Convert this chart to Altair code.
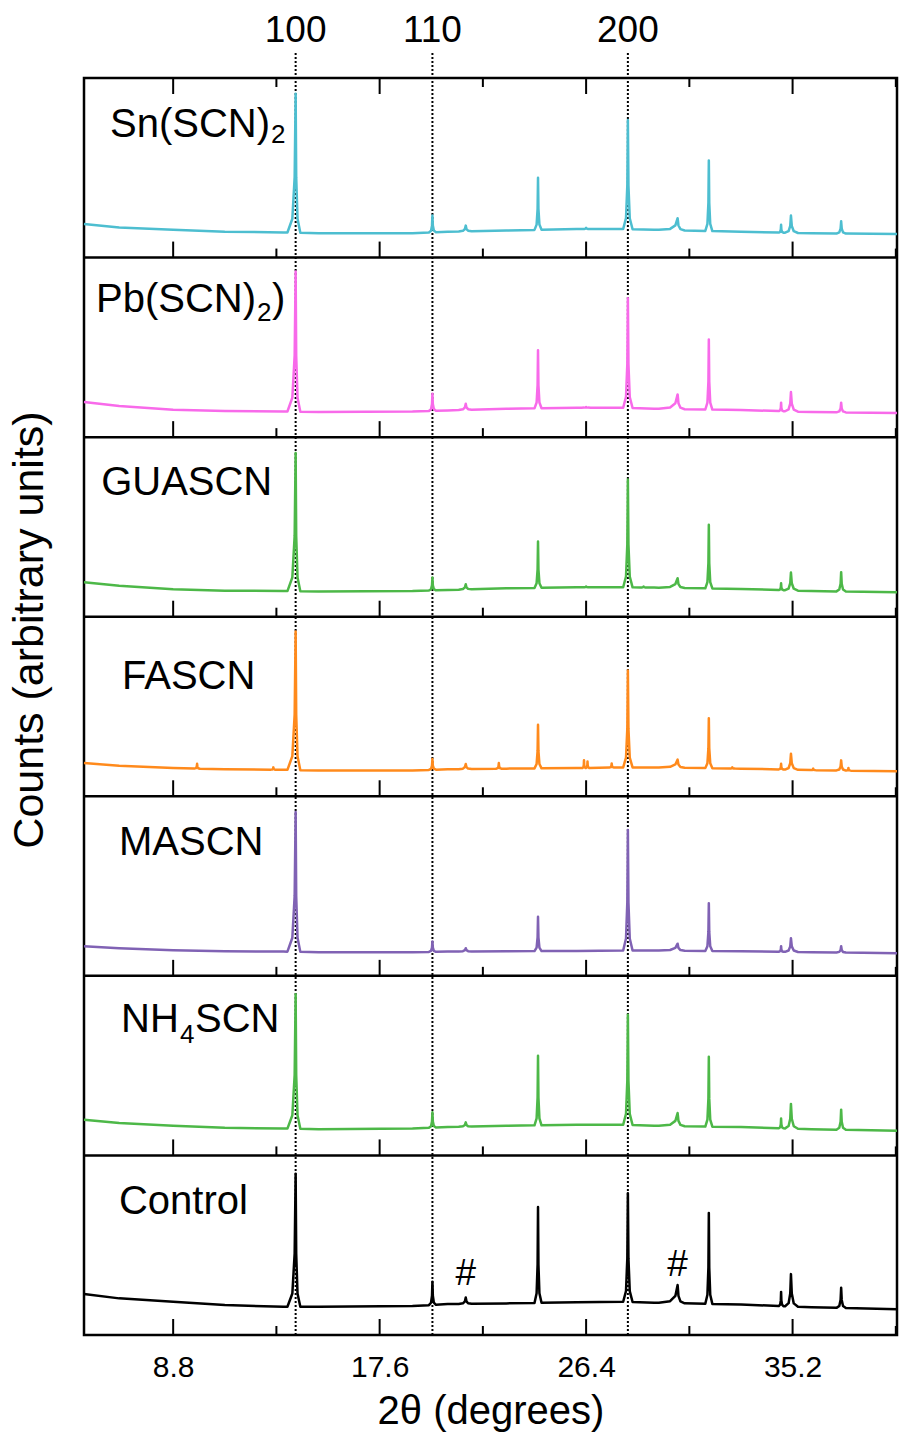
import numpy as np
import pandas as pd
import altair as alt

# Panels listed from the bottom of the stack to the top
PANELS = ["Control", "NH4SCN", "MASCN", "FASCN", "GUASCN", "Pb(SCN)2)", "Sn(SCN)2"]
COLORS = ["#000000", "#4DB848", "#8062B4", "#FF8A1C", "#4DB848", "#F86AEA", "#4DBED0"]

X_MIN, X_MAX = 5.0, 39.65
PANEL_PX = 1257 / 7

# Background knots (2-theta) and per-panel background level (% of panel height)
BASE_X = [5, 6.5, 8.8, 11, 13.5, 15, 19, 20.5, 23, 26, 28, 29.3, 33, 36, 39.65]
BASE = {
    "Control":   [22.8, 20.4, 18.5, 16.7, 15.7, 15.7, 16.1, 17.2, 17.6, 18.3, 18.5, 18.0, 17.0, 15.4, 14.4],
    "NH4SCN":    [19.9, 18.0, 16.5, 15.4, 15.0, 14.6, 15.0, 15.8, 16.5, 17.1, 17.1, 16.5, 15.8, 14.6, 13.7],
    "MASCN":     [16.5, 15.4, 14.3, 13.7, 13.5, 13.2, 13.2, 13.5, 13.7, 13.9, 14.1, 14.1, 13.7, 13.2, 12.6],
    "FASCN":     [18.5, 17.0, 15.7, 15.0, 14.8, 14.3, 14.4, 15.0, 15.4, 15.7, 16.1, 16.1, 15.4, 14.6, 13.9],
    "GUASCN":    [19.2, 17.3, 15.3, 14.5, 14.3, 14.0, 14.3, 14.9, 15.8, 16.4, 16.4, 16.2, 15.5, 14.3, 13.6],
    "Pb(SCN)2)": [19.6, 17.3, 15.3, 14.5, 14.3, 14.0, 14.3, 14.9, 15.8, 16.4, 16.4, 15.8, 15.1, 14.0, 13.4],
    "Sn(SCN)2":  [18.7, 16.8, 15.5, 14.4, 14.0, 13.6, 13.6, 14.4, 15.1, 15.9, 15.9, 15.5, 14.4, 13.5, 13.1],
}

# Common reflections: position, left / right half-width (degrees)
PEAK_POS = [14.02, 19.85, 21.27, 24.35, 26.40, 28.18, 30.30, 31.63, 34.71, 35.13, 37.27]
PEAK_WL = [0.35, 0.15, 0.30, 0.15, 0.20, 0.20, 0.80, 0.15, 0.10, 0.25, 0.20]
PEAK_WR = [0.20, 0.15, 0.25, 0.15, 0.20, 0.20, 0.30, 0.15, 0.10, 0.30, 0.20]
# Peak tops (% of panel height); None = no reflection
PEAK_H = {
    "Control":   [89.8, 29.6, 20.9, 71.3, None, 79.0, 27.8, 68.0, 24.0, 33.9, 26.3],
    "NH4SCN":    [89.7, 24.0, 18.4, 55.5, None, 78.4, 23.6, 55.0, 20.6, 28.7, 25.5],
    "MASCN":     [91.2, 19.2, 15.4, 32.9, None, 81.2, 17.9, 40.4, 16.5, 21.0, 16.5],
    "FASCN":     [91.7, 20.7, 18.0, 39.8, None, 70.0, 20.4, 43.5, 18.1, 23.7, 20.0],
    "GUASCN":    [91.2, 21.8, 18.1, 41.9, 16.8, 76.4, 21.4, 51.2, 18.6, 24.6, 24.8],
    "Pb(SCN)2)": [92.2, 24.2, 18.6, 48.4, 16.8, 77.3, 23.8, 54.4, 19.2, 25.1, 19.2],
    "Sn(SCN)2":  [91.2, 23.4, 17.8, 44.5, 16.5, 76.6, 21.9, 54.0, 18.3, 23.4, 20.2],
}
# Additional weak reflections of single samples
EXTRA_POS = {
    "FASCN": [9.82, 13.07, 22.68, 26.31, 26.46, 27.49, 32.63, 36.08, 37.58],
    "GUASCN": [28.85],
}
EXTRA_H = {
    "FASCN": [18.1, 16.1, 18.5, 20.0, 19.4, 18.3, 16.1, 15.4, 15.7],
    "GUASCN": [16.8],
}
EXTRA_W = {
    "FASCN": [0.12, 0.10, 0.12, 0.07, 0.07, 0.10, 0.12, 0.10, 0.10],
    "GUASCN": [0.15],
}

# Peak outline template (fraction of half-width, fraction of peak height)
PROFILE_OFF = [-1.0, -0.4, -0.12, 0.0, 0.12, 0.4, 1.0]
PROFILE_FRAC = [0.0, 0.1, 0.4, 1.0, 0.4, 0.1, 0.0]

REFL_POS = [14.02, 19.85, 28.18]
REFL_TXT = ["100", "110", "200"]
HASH_POS = [21.27, 30.30]
HASH_Y = [0.278, 0.329]

MAJOR_TICKS = [8.8, 17.6, 26.4, 35.2]
MINOR_TICKS = [13.2, 22.0, 30.8, 39.6]

# Sample names: main text pieces and subscripts (x in degrees, baseline in panel units)
NAME_TXT = ["Control", "NH", "SCN", "MASCN", "FASCN", "GUASCN", "Pb(SCN)", ")", "Sn(SCN)"]
NAME_X = [6.49, 6.577, 9.731, 6.49, 6.62, 5.73, 5.511, 13.013, 6.108]
NAME_Y = [0.674, 1.689, 1.689, 2.673, 3.597, 4.678, 5.699, 5.699, 6.671]
SUB_TXT = ["4", "2", "2"]
SUB_X = [9.092, 12.373, 12.97]
SUB_Y = [1.628, 5.649, 6.638]


def trace(name, idx):
    bx = np.array(BASE_X, float)
    bv = np.array(BASE[name], float)
    peaks = []
    for p, wl, wr, h in zip(PEAK_POS, PEAK_WL, PEAK_WR, PEAK_H[name]):
        if h is not None:
            peaks.append((p, wl, wr, h))
    for p, h, w in zip(EXTRA_POS.get(name, []), EXTRA_H.get(name, []), EXTRA_W.get(name, [])):
        peaks.append((p, w, w, h))
    pts = []
    for x, v in zip(bx, bv):
        if not any(p - wl <= x <= p + wr for p, wl, wr, _ in peaks):
            pts.append((x, v))
    for p, wl, wr, h in peaks:
        b0 = float(np.interp(p, bx, bv))
        for off, frac in zip(PROFILE_OFF, PROFILE_FRAC):
            x = p + off * (wl if off < 0 else wr)
            b = float(np.interp(x, bx, bv))
            pts.append((x, b + frac * (h - b0)))
    pts.sort()
    return pd.DataFrame({
        "deg": [q[0] for q in pts],
        "y": [idx + q[1] / 100 for q in pts],
        "panel": name,
    })


lines = pd.concat([trace(n, i) for i, n in enumerate(PANELS)], ignore_index=True)

xs = alt.Scale(domain=[X_MIN, X_MAX], nice=False, zero=False)
ys = alt.Scale(domain=[0, 7], nice=False, zero=False)

x_axis = alt.Axis(
    values=MAJOR_TICKS, format=".1f", title="2θ (degrees)",
    grid=False, domain=False, ticks=False, tickSize=0,
    labelFontSize=30, labelPadding=17, labelColor="black",
    titleFontSize=40, titleFontWeight="normal", titlePadding=9, titleColor="black",
)


def X(field):
    return alt.X(field, scale=xs, axis=x_axis)


def Y(field):
    return alt.Y(field, scale=ys, axis=None)


refl = pd.DataFrame({"deg": REFL_POS, "txt": REFL_TXT, "y0": 0})

# Dotted reference lines sit behind the traces
dotted = alt.Chart(refl).mark_rule(color="black", strokeWidth=2, strokeDash=[2, 2]).encode(
    x=X("deg:Q"), y=Y("y0:Q"), y2=alt.value(-27)
)

curves = alt.Chart(lines).mark_line(strokeWidth=2.5, strokeJoin="round").encode(
    x=X("deg:Q"),
    y=Y("y:Q"),
    color=alt.Color("panel:N", scale=alt.Scale(domain=PANELS, range=COLORS), legend=None),
    detail="panel:N",
)

# Panel separators
sep = alt.Chart(pd.DataFrame({"b": list(range(1, 7))})).mark_rule(
    color="black", strokeWidth=2.5
).encode(y=Y("b:Q"))

# Inward ticks: bottom edge of every panel (upwards) and top edge of the stack (downwards)
tick_rows = []
for b in range(0, 7):
    for t in MAJOR_TICKS:
        tick_rows.append({"x": t, "y": b, "y2": b + 16 / PANEL_PX})
    for t in MINOR_TICKS:
        tick_rows.append({"x": t, "y": b, "y2": b + 9 / PANEL_PX})
for t in MAJOR_TICKS:
    tick_rows.append({"x": t, "y": 7, "y2": 7 - 16 / PANEL_PX})
for t in MINOR_TICKS:
    tick_rows.append({"x": t, "y": 7, "y2": 7 - 9 / PANEL_PX})
ticks = alt.Chart(pd.DataFrame(tick_rows)).mark_rule(color="black", strokeWidth=2).encode(
    x=X("x:Q"), y=Y("y:Q"), y2="y2:Q"
)

refl_txt = alt.Chart(refl).mark_text(
    fontSize=37, baseline="alphabetic", align="center", color="black"
).encode(x=X("deg:Q"), y=alt.value(-36), text="txt:N")

hashes = alt.Chart(pd.DataFrame({"deg": HASH_POS, "y": HASH_Y, "t": ["#", "#"]})).mark_text(
    fontSize=37, baseline="alphabetic", align="center", color="black"
).encode(x=X("deg:Q"), y=Y("y:Q"), text="t:N")

names = alt.Chart(pd.DataFrame({"x": NAME_X, "y": NAME_Y, "t": NAME_TXT})).mark_text(
    fontSize=40, baseline="alphabetic", align="left", color="black"
).encode(x=X("x:Q"), y=Y("y:Q"), text="t:N")

subs = alt.Chart(pd.DataFrame({"x": SUB_X, "y": SUB_Y, "t": SUB_TXT})).mark_text(
    fontSize=26, baseline="alphabetic", align="left", color="black"
).encode(x=X("x:Q"), y=Y("y:Q"), text="t:N")

ytitle = alt.Chart(pd.DataFrame({"t": ["Counts (arbitrary units)"]})).mark_text(
    fontSize=43, angle=270, align="center", baseline="middle", color="black"
).encode(x=alt.value(-54), y=alt.value(552), text="t:N")

chart = alt.layer(
    dotted, curves, sep, ticks, refl_txt, hashes, names, subs, ytitle
).properties(
    width=813, height=1257,
    autosize=alt.AutoSizeParams(type="none"),
    padding={"left": 84, "top": 78, "right": 3, "bottom": 99},
).configure(
    font="Liberation Sans",
).configure_view(
    stroke="black", strokeWidth=2.5,
)

chart.save("out.html", embed_options={"renderer": "svg", "actions": False})
